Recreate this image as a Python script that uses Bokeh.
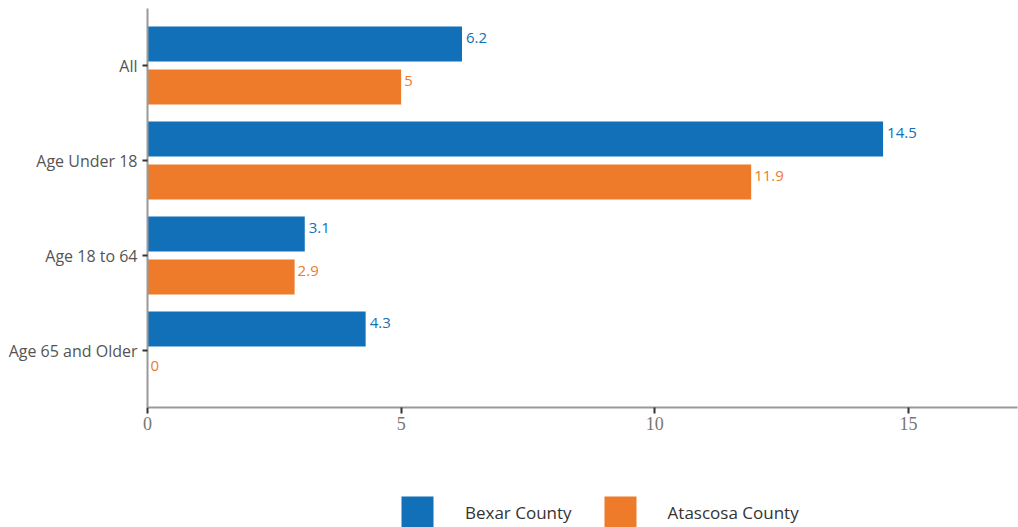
from bokeh.plotting import figure
from bokeh.layouts import column
from bokeh.models import FactorRange, Range1d, Legend, LegendItem, ColumnDataSource
from bokeh.transform import dodge
from bokeh.core.properties import value
from bokeh.embed import file_html
from bokeh.resources import INLINE

categories = ["All", "Age Under 18", "Age 18 to 64", "Age 65 and Older"]
bexar = [6.2, 14.5, 3.1, 4.3]
atascosa = [5, 11.9, 2.9, 0]
series_names = ["Bexar County", "Atascosa County"]
x_ticks = [0, 5, 10, 15]

BLUE = "#1170B8"
ORANGE = "#EE7B2A"
FONT = "Open Sans"

src = ColumnDataSource(dict(
    cat=categories,
    bexar=bexar,
    atascosa=atascosa,
    blab=[f"{v:g}" for v in bexar],
    alab=[f"{v:g}" for v in atascosa],
))

p = figure(
    width=1018, height=440,
    y_range=FactorRange(factors=list(reversed(categories)), range_padding=0.1,
                        range_padding_units="absolute"),
    x_range=Range1d(0, 17.15),
    output_backend="svg", toolbar_location=None,
    min_border_left=147, min_border_right=1, min_border_top=8, min_border_bottom=33,
)
p.outline_line_color = None
p.grid.visible = False

off = 0.226
bh = 0.37
p.hbar(y=dodge("cat", off, range=p.y_range), right="bexar", left=0, height=bh,
       source=src, fill_color=BLUE, line_color=None)
p.hbar(y=dodge("cat", -off, range=p.y_range), right="atascosa", left=0, height=bh,
       source=src, fill_color=ORANGE, line_color=None)

p.text(x="bexar", y=dodge("cat", off, range=p.y_range), text="blab", source=src,
       x_offset=4, y_offset=-6, text_baseline="middle", text_align="left",
       text_font=value(FONT), text_font_size="15px", text_color=BLUE)
p.text(x="atascosa", y=dodge("cat", -off, range=p.y_range), text="alab", source=src,
       x_offset=3, y_offset=-6, text_baseline="middle", text_align="left",
       text_font=value(FONT), text_font_size="15px", text_color=ORANGE)

# axes
p.xaxis.ticker = x_ticks
p.xaxis.axis_line_color = "#999999"
p.xaxis.axis_line_width = 2
p.xaxis.major_tick_line_color = "#333333"
p.xaxis.major_tick_line_width = 2
p.xaxis.major_tick_out = 6
p.xaxis.major_tick_in = 0
p.xaxis.minor_tick_line_color = None
p.xaxis.major_label_text_font = "Liberation Serif"
p.xaxis.major_label_text_font_size = "18px"
p.xaxis.major_label_text_color = "#777777"
p.xaxis.major_label_standoff = 3

p.yaxis.axis_line_color = "#999999"
p.yaxis.axis_line_width = 2
p.yaxis.major_tick_line_color = "#333333"
p.yaxis.major_tick_line_width = 2
p.yaxis.major_tick_out = 5
p.yaxis.major_tick_in = 0
p.yaxis.major_label_text_font = FONT
p.yaxis.major_label_text_font_size = "16px"
p.yaxis.major_label_text_color = "#555555"
p.yaxis.major_label_standoff = 5

# legend strip (dummy bars lie outside its visible range; only the legend shows)
p2 = figure(width=1018, height=87, output_backend="svg", toolbar_location=None,
            x_range=Range1d(0, 1), y_range=Range1d(0, 1),
            min_border_left=0, min_border_right=0, min_border_top=0, min_border_bottom=0)
p2.axis.visible = False
p2.grid.visible = False
p2.outline_line_color = None
dummy = ColumnDataSource(dict(y=[-5], right=[0]))
l1 = p2.hbar(y="y", right="right", left=0, height=0.1, source=dummy,
             fill_color=BLUE, line_color=None)
l2 = p2.hbar(y="y", right="right", left=0, height=0.1, source=dummy,
             fill_color=ORANGE, line_color=None)

legend = Legend(
    items=[LegendItem(label=series_names[0], renderers=[l1]),
           LegendItem(label=series_names[1], renderers=[l2])],
    orientation="horizontal", location=(250, -5),
    glyph_width=40, glyph_height=40, label_standoff=28, spacing=28,
    label_text_font=FONT, label_text_font_size="17px", label_text_color="#333333",
    border_line_color=None, background_fill_color=None, background_fill_alpha=0,
    padding=0, margin=0,
)
p2.add_layout(legend, "center")

layout = column(p, p2, spacing=0)
open("out.html", "w").write(file_html(layout, INLINE))
